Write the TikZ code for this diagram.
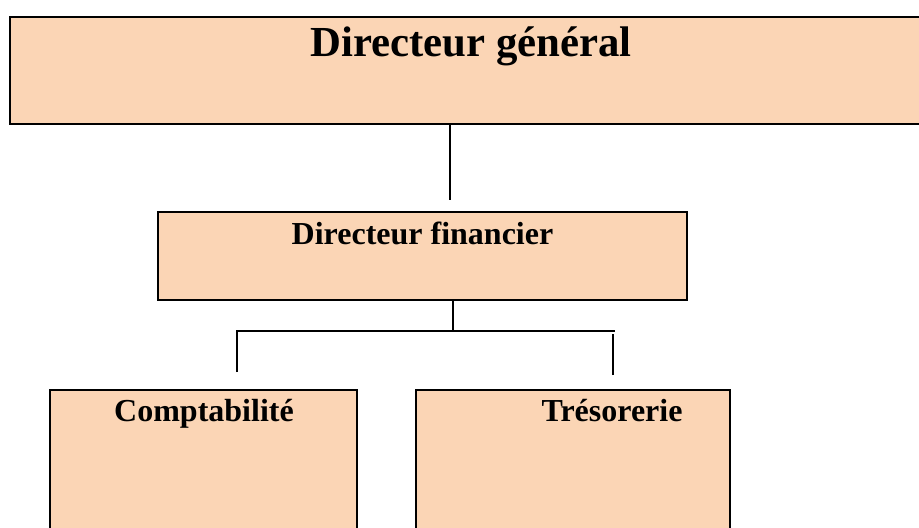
\documentclass[tikz,border=0pt]{standalone}
\usepackage{fontspec}
\setmainfont{Liberation Serif}
\usetikzlibrary{positioning}
\definecolor{Peche}{HTML}{FBD5B5}

\begin{document}
\begin{tikzpicture}[
      x=0.5pt, y=-0.5pt,
      boite/.style={rectangle, draw=black, line width=1.1pt, fill=Peche,
        inner sep=0pt},
      titre/.style={font=\bfseries\fontsize{16}{19}\selectfont, inner sep=0pt,
        anchor=base},
      trait/.style={draw=black, line width=0.8pt},
    ]
    \clip (0,0) rectangle (919,527);
    \useasboundingbox (0,0) rectangle (919,527);

    % les cadres
    \node[boite, minimum width=465pt, minimum height=53.5pt]  (dg)     at (475,70.5) {};
    \node[boite, minimum width=264.5pt, minimum height=44pt]  (df)     at (422.5,256) {};
    \node[boite, minimum width=153.5pt, minimum height=80pt]  (compta) at (203.5,470) {};
    \node[boite, minimum width=157pt, minimum height=80pt]    (treso)  at (573,470) {};

    % les intitules
    \node[titre, font=\bfseries\fontsize{21.4}{25}\selectfont] (tdg) at (471,56) {Directeur général};
    \node[titre] (tdf)     at (422.5,244) {Directeur financier};
    \node[titre] (tcompta) at (204,421)   {Comptabilité};
    \node[titre] (ttreso)  at (612,421)   {Trésorerie};

    % les liaisons
    \coordinate (haut)   at (450,200);
    \coordinate (bras)   at (453,331);
    \coordinate (bout)   at (615,331);
    \coordinate (gauche) at (237,372);
    \coordinate (droite) at (613,375);

    \draw[trait] (dg.south -| haut) -- (haut);
    \draw[trait] (df.south -| bras) -- (bras);
    \draw[trait] (gauche) |- (bout);
    \draw[trait] (droite) -- ++(0,-41);

  \end{tikzpicture}
\end{document}
